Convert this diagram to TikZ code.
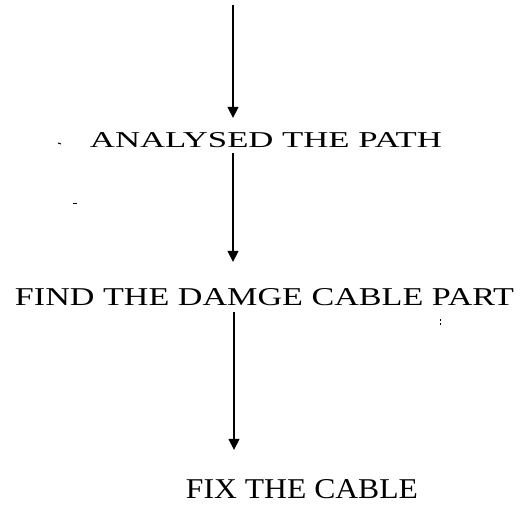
\documentclass[tikz,border=0pt]{standalone}
\usepackage{fontspec}
\setmainfont{Liberation Serif}
\usetikzlibrary{arrows.meta}
\begin{document}
\begin{tikzpicture}[x=1pt,y=-1pt,
  lbl/.style={inner sep=0pt,outer sep=0pt},
  arr/.style={line width=1.2pt,-{Triangle[width=11pt,length=11pt]}},
  speck/.style={line width=1pt}]
\useasboundingbox (0,0) rectangle (525,508);
\coordinate (top) at (233,5);
\node[lbl] (t1) at (266,140) {\resizebox{352pt}{15pt}{ANALYSED THE PATH}};
\node[lbl] (t2) at (264.5,297) {\resizebox{499pt}{17pt}{FIND THE DAMGE CABLE PART}};
\node[lbl] (t3) at (302,489) {\resizebox{232pt}{19pt}{FIX THE CABLE}};
\draw[arr,shorten >=14.5pt] (top) -- (top |- t1.north);
\draw[arr,shorten <=5.5pt,shorten >=26.5pt] (top |- t1.south) -- (top |- t2.north);
\coordinate (c3) at (234,0);
\draw[arr,shorten <=6.5pt,shorten >=29.5pt] (c3 |- t2.south) -- (c3 |- t3.north);
% scan specks
\draw[speck] (58,143) -- (61,144);
\draw[speck] (73,203) -- (77,203);
\draw[speck] (440,319) -- (440,320.5) (440,323) -- (440,324.5);
\end{tikzpicture}
\end{document}
